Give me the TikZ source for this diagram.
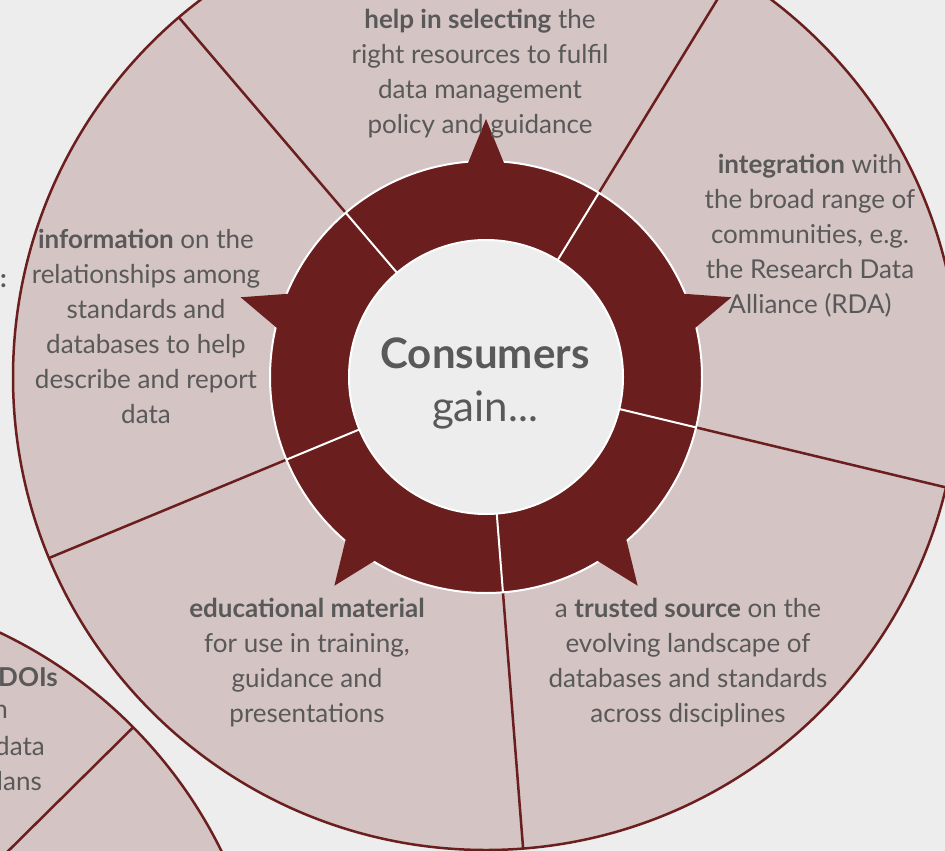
\documentclass[tikz,border=0pt]{standalone}
\usepackage{fontspec}
\setmainfont{Lato}
\usetikzlibrary{calc}
\definecolor{bgcol}{HTML}{EDEDED}
\definecolor{segcol}{HTML}{D4C4C3}
\definecolor{darkred}{HTML}{6B1E1E}
\definecolor{txtgray}{HTML}{595959}

\begin{document}
\begin{tikzpicture}[x=1pt, y=1pt,
    txt/.style={text=txtgray, align=center, font={\fontsize{26}{35}\selectfont}},
    big/.style={text=txtgray, align=center, font={\fontsize{42}{53}\selectfont}},
    rim/.style={draw=darkred, line width=2.5pt},
    gap/.style={draw=white, line width=2pt}]
    \useasboundingbox (0,0) rectangle (945,-851);
    \fill[bgcol] (0,0) rectangle (945,-851);
    \clip (0,0) rectangle (945,-851);

    % neighbour wheel, bottom left
    \coordinate (other) at (-203,-1060);
    \fill[segcol] (other) circle (473);
    \foreach \a in {44.7,116.7,188.7,260.7,332.7}
        \draw[rim] ($(other)+(\a:216)$) -- ($(other)+(\a:473)$);
    \draw[rim] (other) circle (473);

    % consumers wheel
    \coordinate (c) at (486,-377);
    \fill[segcol] (c) circle (473);
    \foreach \a in {58.5,130.5,202.5,274.5,346.5}
        \draw[rim] ($(c)+(\a:216)$) -- ($(c)+(\a:473)$);
    \draw[rim] (c) circle (473);

    % dark ring with tips
    \filldraw[fill=darkred, gap] (c) circle (216);
    \foreach \a in {18,90,162,234,306}
        \fill[darkred] ($(c)+(\a:258)$) -- ($(c)+(\a+6.2:205)$) -- ($(c)+(\a-6.2:205)$) -- cycle;
    \foreach \a in {58.5,130.5,202.5,274.5,346.5}
        \draw[gap] ($(c)+(\a:137)$) -- ($(c)+(\a:216)$);
    \filldraw[fill=bgcol, gap] (c) circle (137);

    \node[big] (hub) at (485,-383) {\textbf{Consumers}\\gain...};

    \node[txt] (help) at (480,-74) {\textbf{help in selecting} the\\right resources to fulfil\\data management\\policy and guidance};
    \node[txt] (integ) at (810,-236) {\textbf{integration} with\\the broad range of\\communities, e.g.\\the Research Data\\Alliance (RDA)};
    \node[txt] (info) at (146,-326) {\textbf{information} on the\\relationships among\\standards and\\databases to help\\describe and report\\data};
    \node[txt] (edu) at (307,-663) {\textbf{educational material}\\for use in training,\\guidance and\\presentations};
    \node[txt] (trust) at (688,-663) {a \textbf{trusted source} on the\\evolving landscape of\\databases and standards\\across disciplines};

    % cut-off texts at the left edge
    \node[txt, anchor=east, inner sep=0pt] (colon) at (7,-281) {\textbf{:}};
    \node[txt, anchor=east, inner sep=0pt] (doi) at (58,-677) {\textbf{DOIs}};
    \node[txt, anchor=east, inner sep=0pt] (doin) at (8,-712) {n};
    \node[txt, anchor=east, inner sep=0pt] (doidata) at (45,-746) {data};
    \node[txt, anchor=east, inner sep=0pt] (doiplans) at (42,-781) {lans};
\end{tikzpicture}
\end{document}
